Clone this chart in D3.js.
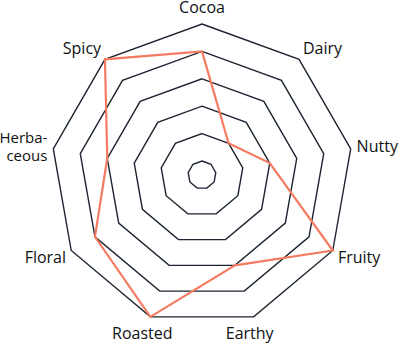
<!DOCTYPE html>
<html lang="en">
<head>
<meta charset="utf-8">
<script src="https://d3js.org/d3.v7.min.js"></script>
<style>
  body { margin: 0; background: #fff; }
  svg text { font-family: "Open Sans", sans-serif; font-size: 16px; fill: #111; }
  svg text.wrap { font-size: 15px; }
</style>
</head>
<body>
<div id="my_dataviz"></div>
<script>

// flavour axes, clockwise from the top
var axes = ["Cocoa", "Dairy", "Nutty", "Fruity", "Earthy", "Roasted", "Floral", "Herba-\nceous", "Spicy"];
var values = [4, 1, 2, 5, 3, 5, 4, 3, 5];
var levels = [0, 1, 2, 3, 4, 5];

var width = 400, height = 345;
var cx = 202, cy = 175;

var svg = d3.select("#my_dataviz")
  .append("svg")
    .attr("width", width)
    .attr("height", height)
  .append("g")
    .attr("transform", "translate(" + cx + "," + cy + ")");

var angle = d3.scaleLinear()
  .domain([0, axes.length])
  .range([0, 2 * Math.PI]);

var r = d3.scaleLinear()
  .domain([0, 5])
  .range([14, 151]);

function pt(i, v) {
  var a = angle(i);
  return [r(v) * Math.sin(a), -r(v) * Math.cos(a)];
}

var line = d3.line().curve(d3.curveLinearClosed);

// grid rings
svg.selectAll(".ring")
  .data(levels)
  .enter()
  .append("path")
    .attr("class", "ring")
    .attr("d", function(lv) { return line(axes.map(function(a, i) { return pt(i, lv); })); })
    .attr("fill", "none")
    .attr("stroke", "#1b2430")
    .attr("stroke-width", 1.4);

// data polygon
svg.append("path")
  .datum(values)
  .attr("d", function(d) { return line(d.map(function(v, i) { return pt(i, v); })); })
  .attr("fill", "none")
  .attr("stroke", "#f47b62")
  .attr("stroke-width", 2.2)
  .attr("stroke-linejoin", "miter");

// labels
var R = 157;
var lab = svg.selectAll(".lab")
  .data(axes)
  .enter()
  .append("text")
    .attr("class", function(d) { return d.indexOf("\n") >= 0 ? "lab wrap" : "lab"; })
    .attr("text-anchor", function(d, i) {
      var s = Math.sin(angle(i));
      if (Math.abs(s) < 0.5) return "middle";
      return s > 0 ? "start" : "end";
    })
    .attr("transform", function(d, i) {
      var a = angle(i);
      var x = R * Math.sin(a), y = -R * Math.cos(a);
      if (Math.cos(a) < -0.8) x -= 6;
      y += 5.5 - 8.5 * Math.cos(a) + (Math.cos(a) > 0.9 ? -2 : 0);
      if (Math.cos(a) < -0.8) y += 3;
      return "translate(" + x + "," + y + ")";
    });

lab.each(function(d) {
  var parts = d.split("\n");
  var t = d3.select(this);
  parts.forEach(function(p, k) {
    t.append("tspan")
      .attr("x", 0)
      .attr("y", parts.length > 1 ? (k - (parts.length - 1) / 2) * 17.6 : 0)
      .text(p);
  });
});

</script>
</body>
</html>
